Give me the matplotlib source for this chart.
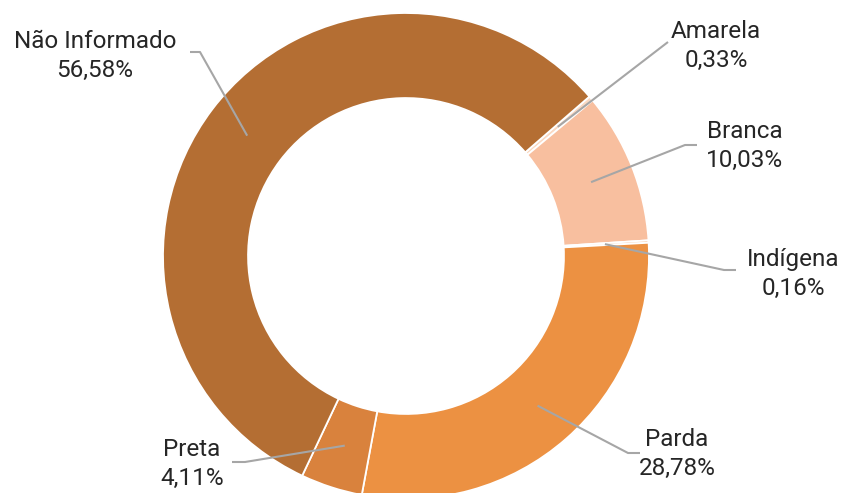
import matplotlib
matplotlib.use("Agg")
import matplotlib.pyplot as plt
import numpy as np

plt.rcParams['font.family'] = ['Roboto', 'DejaVu Sans']

# dados por raça/cor
categorias = ["Amarela", "Branca", "Indígena", "Parda", "Preta", "Não Informado"]
percentuais = [0.33, 10.03, 0.16, 28.78, 4.11, 56.58]
cores = ["#FAD9C3", "#F8BF9F", "#F6CBAA", "#EC9142", "#D9823D", "#B46E33"]

# posição dos rótulos em pixels (centro do texto) e pontos da linha guia
rotulos_px = {
    "Amarela": (716, 46),
    "Branca": (745, 146),
    "Indígena": (793, 274),
    "Parda": (677, 454),
    "Preta": (192, 464),
    "Não Informado": (95, 56),
}
guia_px = {
    "Amarela": [(668, 42)],
    "Branca": [(685, 145), (697, 145)],
    "Indígena": [(724, 270), (736, 270)],
    "Parda": [(628, 453), (640, 453)],
    "Preta": [(245, 462), (232, 462)],
    "Não Informado": [(200, 52), (190, 52)],
}

W, H = 846, 493
CX, CY, R = 406, 256, 243

fig = plt.figure(figsize=(W / 100, H / 100), dpi=100)
ax = fig.add_axes([0, 0, 1, 1])


def px(p):
    return ((p[0] - CX) / R, (CY - p[1]) / R)


wedges, _ = ax.pie(percentuais, colors=cores, startangle=41, counterclock=False,
                   radius=1, wedgeprops=dict(width=0.35, edgecolor="white", linewidth=1.3))

for w, nome, pct in zip(wedges, categorias, percentuais):
    ang = np.deg2rad((w.theta1 + w.theta2) / 2)
    inicio = (0.82 * np.cos(ang), 0.82 * np.sin(ang))
    pts = [inicio] + [px(p) for p in guia_px[nome]]
    xs, ys = zip(*pts)
    ax.plot(xs, ys, color="#A6A6A6", lw=1.5, solid_capstyle="butt")
    tx, ty = px(rotulos_px[nome])
    ax.text(tx, ty, f"{nome}\n{pct:.2f}%".replace(".", ","), ha="center", va="center",
            fontsize=17.5, color="#262626", linespacing=1.32)

# pie() redefine os limites, então ajusta depois
ax.set_xlim(-CX / R, (W - CX) / R)
ax.set_ylim(-(H - CY) / R, CY / R)
ax.set_aspect("equal")
ax.axis("off")

fig.savefig("out.png", dpi=100)
